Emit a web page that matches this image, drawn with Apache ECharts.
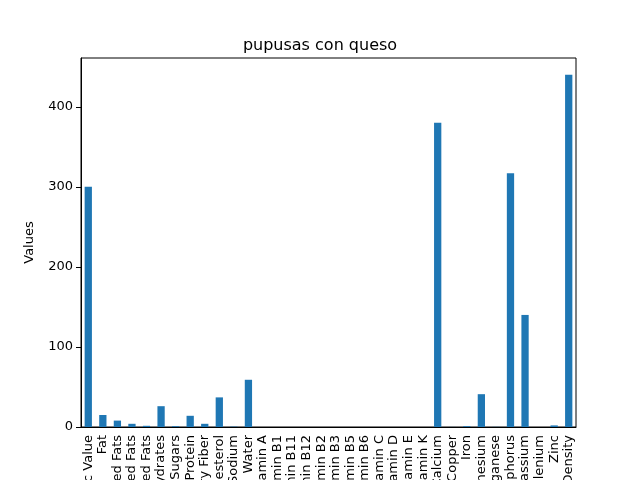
<!DOCTYPE html>
<html>
<head>
<meta charset="utf-8">
<script src="https://cdn.jsdelivr.net/npm/echarts@6/dist/echarts.min.js"></script>
<style>html,body{margin:0;padding:0;background:#fff}#main{width:640px;height:480px}</style>
</head>
<body>
<div id="main"></div>
<script>
var categories = ["Caloric Value", "Fat", "Saturated Fats", "Monounsaturated Fats", "Polyunsaturated Fats",
  "Carbohydrates", "Sugars", "Protein", "Dietary Fiber", "Cholesterol", "Sodium", "Water",
  "Vitamin A", "Vitamin B1", "Vitamin B11", "Vitamin B12", "Vitamin B2", "Vitamin B3", "Vitamin B5",
  "Vitamin B6", "Vitamin C", "Vitamin D", "Vitamin E", "Vitamin K", "Calcium", "Copper", "Iron",
  "Magnesium", "Manganese", "Phosphorus", "Potassium", "Selenium", "Zinc", "Nutrition Density"];
var values = [300, 15, 8, 4, 1.5, 26, 1, 14, 4, 37, 0.5, 59,
  0, 0, 0, 0, 0, 0, 0, 0, 0, 0, 0, 0, 380, 0.1, 1, 41, 0.2, 317, 140, 0, 2, 440];

var myChart = echarts.init(document.getElementById("main"));
var option = {
  animation: false,
  title: {
    text: "pupusas con queso",
    left: "center",
    top: 33,
    textStyle: { fontFamily: "DejaVu Sans", fontSize: 16, fontWeight: "normal", color: "#000" },
  },
  grid: {
    left: 81, right: 64, top: 58, bottom: 53,
    containLabel: false,
    outerBoundsMode: "none",
    show: true, borderColor: "#000", borderWidth: 1,
  },
  xAxis: {
    type: "category",
    data: categories,
    axisLine: { lineStyle: { color: "#000" } },
    axisTick: { alignWithLabel: true, lineStyle: { color: "#000" } },
    axisLabel: { rotate: 90, interval: 0, color: "#000", fontFamily: "DejaVu Sans", fontSize: 13 },
  },
  yAxis: {
    type: "value",
    min: 0, max: 461, interval: 100,
    name: "Values",
    nameLocation: "middle",
    nameGap: 45,
    nameTextStyle: { fontFamily: "DejaVu Sans", fontSize: 13, color: "#000" },
    splitLine: { show: false },
    axisLine: { show: true, lineStyle: { color: "#000" } },
    axisTick: { show: true, lineStyle: { color: "#000" } },
    axisLabel: { color: "#000", fontFamily: "DejaVu Sans", fontSize: 13, showMaxLabel: false },
  },
  series: [
    {
      type: "bar",
      data: values,
      barWidth: "50%",
      itemStyle: { color: "#1f77b4" },
    },
  ],
};
myChart.setOption(option);
</script>
</body>
</html>
